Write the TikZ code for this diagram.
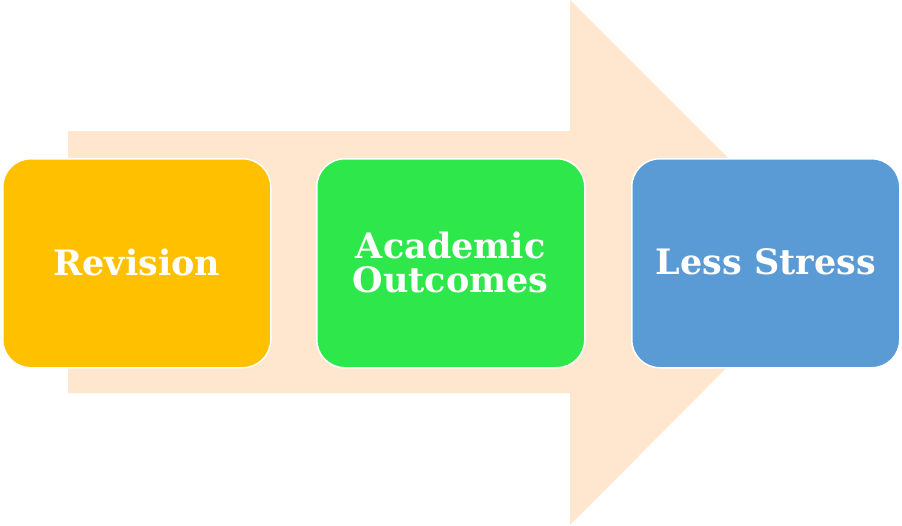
\documentclass[tikz,border=0pt]{standalone}
\usepackage{fontspec}
\setmainfont{DejaVu Serif}
\begin{document}
\begin{tikzpicture}[x=1pt,y=-1pt,
  box/.style={draw=white,line width=1.5pt,rounded corners=28pt,minimum width=268pt,minimum height=209pt,anchor=north west,text=white,font=\bfseries\fontsize{35}{36}\selectfont,align=center,inner sep=0pt}]
\useasboundingbox (0,0) rectangle (902,525);
\fill[fill={rgb,255:red,254;green,231;blue,206}] (68,131) -- (570,131) -- (570,0) -- (832,262) -- (570,525) -- (570,393) -- (68,393) -- cycle;
\node[box,fill={rgb,255:red,255;green,192;blue,0}] (a) at (2,158) {\raisebox{3pt}{Revision}};
\node[box,fill={rgb,255:red,46;green,231;blue,74}] (b) at (316,158) {\raisebox{3pt}{Academic}\\[-2pt]\raisebox{3pt}{Outcomes}};
\node[box,fill={rgb,255:red,91;green,155;blue,213}] (c) at (631,158) {\raisebox{3pt}{Less Stress}};
\end{tikzpicture}
\end{document}
